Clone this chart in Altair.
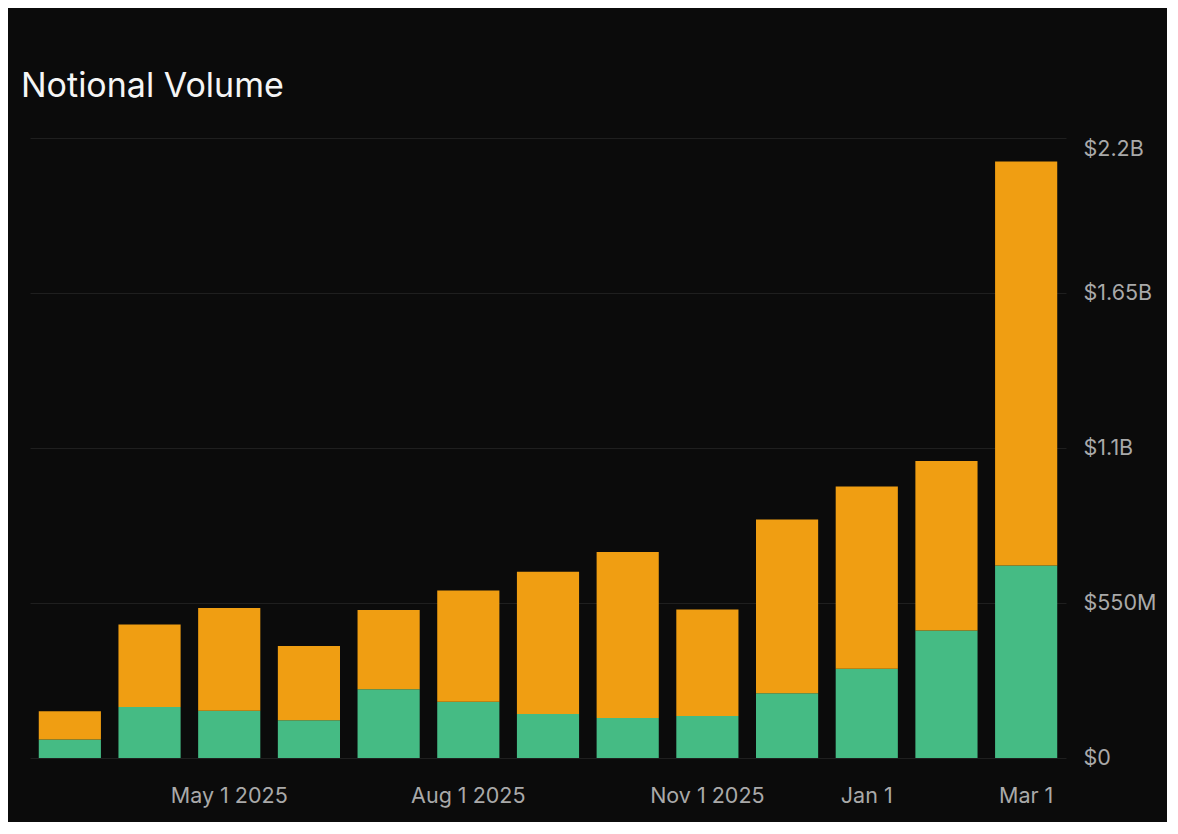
import altair as alt
import pandas as pd

months = ["2025-03", "2025-04", "2025-05", "2025-06", "2025-07", "2025-08", "2025-09",
          "2025-10", "2025-11", "2025-12", "2026-01", "2026-02", "2026-03"]
tick_labels = {"2025-05": "May 1 2025", "2025-08": "Aug 1 2025", "2025-11": "Nov 1 2025",
               "2026-01": "Jan 1", "2026-03": "Mar 1"}
# values in $M
green_vals = [66, 181, 168, 134, 244, 200, 156, 142, 149, 230, 317, 452, 683]
orange_vals = [100, 293, 364, 263, 281, 394, 505, 589, 378, 616, 646, 602, 1434]
series = ["Segment A", "Segment B"]
colors = ["#45BB84", "#F09E12"]
y_ticks = [0, 550, 1100, 1650, 2200]

rows = []
for m, g, o in zip(months, green_vals, orange_vals):
    rows.append({"month": m, "series": series[0], "value": g, "ord": 0})
    rows.append({"month": m, "series": series[1], "value": o, "ord": 1})
df = pd.DataFrame(rows)

label_expr = "''"
for k, v in tick_labels.items():
    label_expr = f"datum.value == '{k}' ? '{v}' : ({label_expr})"

font = "Inter"
label_color = "#a9a9a9"
lab_size = 21.5

chart = alt.Chart(df).mark_bar().encode(
    x=alt.X("month:O", sort=months,
            scale=alt.Scale(paddingInner=0.22, paddingOuter=0.11),
            axis=alt.Axis(title=None, labelExpr=label_expr, labelAngle=0, ticks=False,
                          domain=False, grid=False, labelOverlap=False,
                          labelColor=label_color, labelFontSize=lab_size, labelFont=font,
                          labelPadding=27)),
    y=alt.Y("value:Q", stack="zero",
            scale=alt.Scale(domain=[0, 2200], nice=False),
            axis=alt.Axis(title=None, orient="right", values=y_ticks, ticks=False,
                          domain=False, grid=True, gridColor="#1f1f1f", gridWidth=1,
                          labelColor=label_color, labelFontSize=lab_size, labelFont=font,
                          labelPadding=17, labelAlign="left",
                          labelBaseline={"condition": {"test": "datum.value >= 2200", "value": "top"},
                                         "value": "middle"},
                          labelExpr="datum.value == 0 ? '$0' : (datum.value >= 1000 ? '$' + format(datum.value/1000, '.3~g') + 'B' : '$' + datum.value + 'M')")),
    color=alt.Color("series:N", scale=alt.Scale(domain=series, range=colors), legend=None),
    order=alt.Order("ord:Q", sort="ascending"),
).properties(
    width=1036, height=620,
    padding={"left": 13, "top": 62, "right": 11, "bottom": 15},
    background="#0b0b0b",
    title=alt.TitleParams("Notional Volume", anchor="start", dx=-9, offset=34,
                          fontSize=34, font=font, fontWeight="normal", color="#f5f5f5"),
).configure_view(stroke=None)

chart.save("out.html", embed_options={"renderer": "svg", "actions": False})
